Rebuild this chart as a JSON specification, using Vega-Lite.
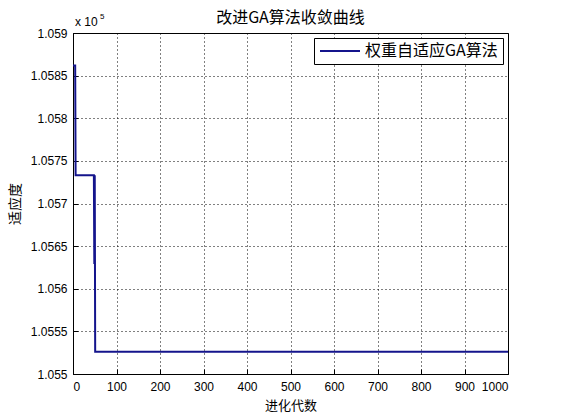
{
  "$schema": "https://vega.github.io/schema/vega-lite/v6.json",
  "width": 435,
  "height": 341,
  "autosize": {"type": "none"},
  "padding": {"left": 73, "top": 33, "right": 53, "bottom": 46},
  "background": "white",
  "title": {"text": "改进GA算法收敛曲线", "font": "Noto Sans CJK SC", "fontSize": 16, "fontWeight": "normal", "color": "black", "offset": -13},
  "config": {"view": {"stroke": "black", "strokeWidth": 1}, "font": "Liberation Sans"},
  "data": {"values": [
    {"generation": 0, "fitness": 105862, "series": "权重自适应GA算法"},
    {"generation": 5, "fitness": 105862, "series": "权重自适应GA算法"},
    {"generation": 6, "fitness": 105733, "series": "权重自适应GA算法"},
    {"generation": 48, "fitness": 105733, "series": "权重自适应GA算法"},
    {"generation": 49, "fitness": 105629, "series": "权重自适应GA算法"},
    {"generation": 50, "fitness": 105733, "series": "权重自适应GA算法"},
    {"generation": 51, "fitness": 105526, "series": "权重自适应GA算法"},
    {"generation": 1000, "fitness": 105526, "series": "权重自适应GA算法"}
  ]},
  "layer": [
    {
      "mark": {"type": "line", "strokeWidth": 2, "clip": true},
      "encoding": {
        "x": {"field": "generation", "type": "quantitative",
          "scale": {"domain": [0, 1000], "nice": false},
          "axis": {"values": [0, 100, 200, 300, 400, 500, 600, 700, 800, 900, 1000], "format": "d", "grid": true, "gridDash": [1, 3], "gridColor": "black", "gridOpacity": 1, "domain": false, "tickSize": -5, "tickColor": "black", "labelPadding": 12, "labelFontSize": 12, "labelColor": "black", "labelFont": "Liberation Sans", "title": "进化代数", "titleFont": "Noto Sans CJK SC", "titleFontSize": 13, "titleFontWeight": "normal", "titleColor": "black", "titlePadding": 7}},
        "y": {"field": "fitness", "type": "quantitative",
          "scale": {"domain": [105500, 105900], "nice": false, "zero": false},
          "axis": {"values": [105500, 105550, 105600, 105650, 105700, 105750, 105800, 105850, 105900], "labelExpr": "format(datum.value/100000, '.4~f')", "grid": true, "gridDash": [1, 3], "gridColor": "black", "gridOpacity": 1, "domain": false, "tickSize": -5, "tickColor": "black", "labelPadding": 11, "labelFontSize": 12, "labelColor": "black", "labelFont": "Liberation Sans", "title": "适应度", "titleFont": "Noto Sans CJK SC", "titleFontSize": 14, "titleFontWeight": "normal", "titleColor": "black", "titlePadding": 8}},
        "color": {"field": "series", "type": "nominal", "scale": {"range": ["#14148c"]},
          "legend": {"title": null, "orient": "top-right", "offset": 5, "strokeColor": "black", "fillColor": "white", "padding": 5, "symbolType": "M-1,0H1", "symbolSize": 1600, "symbolStrokeWidth": 2, "clipHeight": 16, "labelFont": "Noto Sans CJK SC", "labelFontSize": 16, "labelColor": "black", "labelOffset": 4, "cornerRadius": 0}}
      }
    },
    {
      "data": {"values": [{}]},
      "mark": {"type": "text", "text": "x 10", "align": "left", "baseline": "bottom", "dx": 2, "dy": -4, "fontSize": 12, "font": "Liberation Sans", "color": "black"},
      "encoding": {"x": {"datum": 0}, "y": {"datum": 105900}}
    },
    {
      "data": {"values": [{}]},
      "mark": {"type": "text", "text": "5", "align": "left", "baseline": "bottom", "dx": 27, "dy": -12, "fontSize": 8, "font": "Liberation Sans", "color": "black"},
      "encoding": {"x": {"datum": 0}, "y": {"datum": 105900}}
    }
  ]
}
